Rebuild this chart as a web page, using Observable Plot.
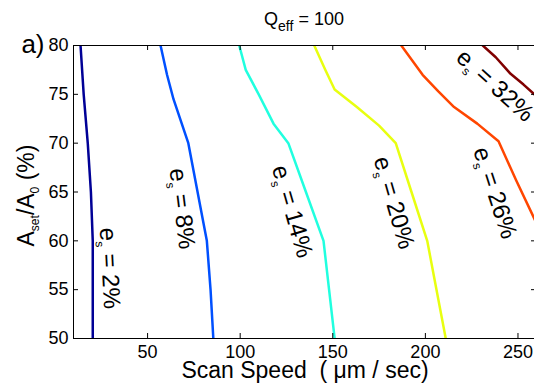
<!DOCTYPE html>
<html>
<head>
<meta charset="utf-8">
<script src="https://cdn.jsdelivr.net/npm/d3@7"></script>
<script src="https://cdn.jsdelivr.net/npm/@observablehq/plot@0.6"></script>
<style>
html, body { margin: 0; padding: 0; background: #fff; overflow: hidden; width: 534px; height: 385px; }
#title { position: relative; height: 28px; font-family: "Liberation Sans", Arial, sans-serif; font-size: 18px; line-height: 20px; color: #000; }
#title span { position: absolute; left: 304px; top: 9px; transform: translateX(-50%); white-space: nowrap; }
#title sub { font-size: 14px; vertical-align: -6px; line-height: 0; }
#chart svg { display: block; }
</style>
</head>
<body>
<div id="title"><span>Q<sub>eff</sub> = 100</span></div>
<div id="chart"></div>
<script>
// ---- data ----
const levels = [2, 8, 14, 20, 26, 32];
const levelColors = ["#000096", "#0050ff", "#20ffdf", "#e8ff10", "#ff4600", "#800000"];

// contour lines: [scan speed (um/sec), Aset/A0 (%)]
const line2  = [[13.8, 80], [15.5, 75], [17.7, 70], [19.4, 65], [20.4, 60], [20.4, 55], [20.4, 50]];
const line8  = [[57, 80], [60.5, 77], [64, 74.5], [72, 70], [79.5, 62.5], [82, 60], [84, 55], [85.5, 50]];
const line14 = [[99.5, 80], [103, 77.5], [110, 75], [118, 72], [126, 70], [135.5, 65], [145, 60], [148, 55], [151, 50]];
const line20 = [[140, 80], [146, 77.5], [151, 75.5], [163, 73.7], [175, 71.8], [184, 70], [192.5, 65], [201, 60], [206, 55], [211, 50]];
const line26 = [[187, 80], [198.5, 77], [207, 75.3], [215.5, 73.7], [228, 72], [239.5, 70.2], [249, 66.2], [260, 61.8]];
const line32 = [[231, 80], [238, 78.8], [246, 77.1], [253, 76], [260, 74.8]];
const contourLines = [line2, line8, line14, line20, line26, line32];

// contour labels
const labelX = [29.5, 68.6, 128.1, 183, 237.6, 237.6];
const labelY = [57.2, 63.3, 63.0, 63.9, 64.9, 75.9];
const labelAngle = [87, 83, 74, 74, 72, 42];

const xTicks = [50, 100, 150, 200, 250];
const yTicks = [50, 55, 60, 65, 70, 75, 80];
const xLabel = "Scan Speed  ( \u03bcm / sec)";
const yLabel = "A{set}/A{0} (%)";
const panelLabel = "a)";

// ---- build tables ----
const lines = levels.flatMap((lv, i) => contourLines[i].map(([x, y]) => ({level: lv, x, y})));
const labels = levels.map((lv, i) => ({level: lv, x: labelX[i], y: labelY[i], angle: labelAngle[i]}));

const frameH = 293, frameW = 463, tickLen = 5;

const chart = Plot.plot({
  width: 534,
  height: 357,
  marginTop: 17,
  marginBottom: 47,
  marginLeft: 73,
  marginRight: -2,
  style: {fontFamily: '"Liberation Sans", Arial, sans-serif', fontSize: "18px", color: "black", background: "white"},
  x: {domain: [10, 260]},
  y: {domain: [50, 80]},
  color: {type: "ordinal", domain: levels, range: levelColors},
  marks: [
    Plot.axisX({ticks: xTicks, tickSize: 0, tickPadding: 7, label: null}),
    Plot.axisY({ticks: yTicks, tickSize: 0, tickPadding: 5, label: null}),
    Plot.line(lines, {x: "x", y: "y", z: "level", stroke: "level", strokeWidth: 2.5, clip: true}),
    Plot.frame({stroke: "black", strokeWidth: 1}),
    Plot.ruleX(xTicks, {x: d => d, insetTop: frameH - tickLen, stroke: "black"}),
    Plot.ruleX(xTicks, {x: d => d, insetBottom: frameH - tickLen, stroke: "black"}),
    Plot.ruleY(yTicks, {y: d => d, insetRight: frameW - tickLen, stroke: "black"}),
    Plot.ruleY(yTicks, {y: d => d, insetLeft: frameW - tickLen, stroke: "black"}),
    Plot.text(labels, {x: "x", y: "y", rotate: "angle", text: d => `e{s} = ${d.level}%`, fontSize: 24, textAnchor: "middle", lineAnchor: "middle", fill: "black"}),
    Plot.text([xLabel], {text: d => d, frameAnchor: "bottom", dy: 39.5, lineAnchor: "bottom", fontSize: 23, fill: "black"}),
    Plot.text([yLabel], {text: d => d, frameAnchor: "left", dx: -47, dy: 3.5, rotate: -90, textAnchor: "middle", lineAnchor: "middle", fontSize: 23, fill: "black"}),
    Plot.text([panelLabel], {text: d => d, frameAnchor: "top-left", dx: -29, dy: 7, textAnchor: "end", lineAnchor: "bottom", fontSize: 26, fill: "black"})
  ]
});

// turn {..} segments into subscripts
d3.select(chart).selectAll("text").each(function() {
  const el = d3.select(this);
  const txt = this.textContent;
  if (!txt.includes("{")) return;
  const fs = parseFloat(el.attr("font-size")) || 18;
  const subSize = Math.round(fs * 0.68);
  const shift = fs * 0.28;
  el.text(null);
  let shifted = false;
  for (const part of txt.split(/(\{[^}]*\})/)) {
    if (!part) continue;
    const isSub = part.startsWith("{");
    const t = el.append("tspan").text(isSub ? part.slice(1, -1) : part);
    if (isSub) {
      t.attr("font-size", subSize);
      if (!shifted) { t.attr("dy", shift); shifted = true; }
    } else if (shifted) {
      t.attr("dy", -shift); shifted = false;
    }
  }
});

document.getElementById("chart").appendChild(chart);
</script>
</body>
</html>
